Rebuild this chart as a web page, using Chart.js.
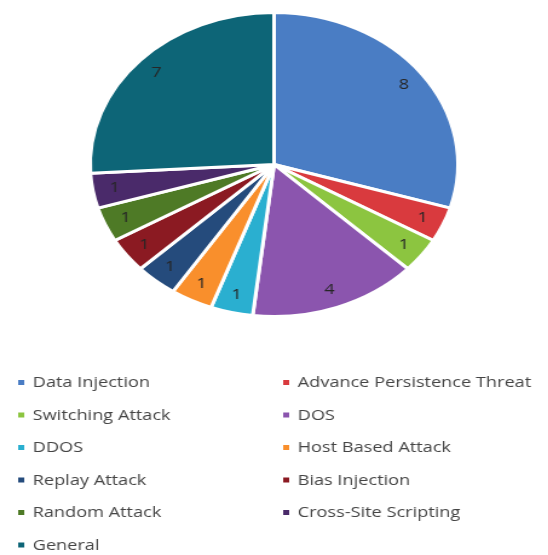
<!DOCTYPE html>
<html>
<head>
<meta charset="utf-8">
<script src="https://cdn.jsdelivr.net/npm/chart.js@4"></script>
<style>
  html, body { margin: 0; padding: 0; background: #fff; overflow: hidden; }
  #wrap { width: 453px; height: 555px; transform: scaleX(1.21); transform-origin: 0 0; }
</style>
</head>
<body>
<div id="wrap"><canvas id="attack-chart" width="453" height="555"></canvas></div>
<script>
const attackTypes = ['Data Injection', 'Advance Persistence Threat', 'Switching Attack', 'DOS',
    'DDOS', 'Host Based Attack', 'Replay Attack', 'Bias Injection', 'Random Attack',
    'Cross-Site Scripting', 'General'];
const paperCounts = [8, 1, 1, 4, 1, 1, 1, 1, 1, 1, 7];
const sliceColors = ['#4a7dc4', '#d93a3e', '#8cc540', '#8b55ae', '#2aafd0', '#f98f2c',
    '#254b7c', '#8b1a22', '#4e7a26', '#4a2a6a', '#0d6577'];

// value labels inside each slice
const sliceLabels = {
    id: 'sliceLabels',
    afterDatasetsDraw(chart) {
        const ctx = chart.ctx;
        const ds = chart.data.datasets[0];
        chart.getDatasetMeta(0).data.forEach((arc, i) => {
            const p = arc.getProps(['x', 'y', 'startAngle', 'endAngle', 'outerRadius'], true);
            const mid = (p.startAngle + p.endAngle) / 2;
            const r = p.outerRadius * 0.88;
            ctx.save();
            ctx.fillStyle = '#262626';
            ctx.font = '15px "Open Sans", sans-serif';
            ctx.textAlign = 'center';
            ctx.textBaseline = 'middle';
            ctx.fillText(ds.data[i], p.x + Math.cos(mid) * r, p.y + Math.sin(mid) * r);
            ctx.restore();
        });
    }
};

// two-column legend under the pie
const columnLegend = {
    id: 'columnLegend',
    afterDraw(chart) {
        const ctx = chart.ctx;
        const colors = chart.data.datasets[0].backgroundColor;
        ctx.save();
        ctx.font = '15px "Open Sans", sans-serif';
        ctx.textBaseline = 'middle';
        chart.data.labels.forEach((label, i) => {
            const col = i % 2;
            const row = Math.floor(i / 2);
            const y = 383 + row * 32.5;
            const mx = col === 0 ? 15 : 234;
            ctx.fillStyle = colors[i];
            ctx.fillRect(mx, y - 3, 5, 5);
            ctx.fillStyle = '#444444';
            ctx.fillText(label, mx + 12, y);
        });
        ctx.restore();
    }
};

new Chart(document.getElementById('attack-chart').getContext('2d'), {
    type: 'pie',
    data: {
        labels: attackTypes,
        datasets: [{
            data: paperCounts,
            backgroundColor: sliceColors,
            borderColor: '#ffffff',
            borderWidth: 3,
            hoverOffset: 0
        }]
    },
    options: {
        responsive: false,
        animation: false,
        layout: { padding: { top: 11, bottom: 237 } },
        plugins: {
            legend: { display: false },
            tooltip: { enabled: false }
        }
    },
    plugins: [sliceLabels, columnLegend]
});
</script>
</body>
</html>
